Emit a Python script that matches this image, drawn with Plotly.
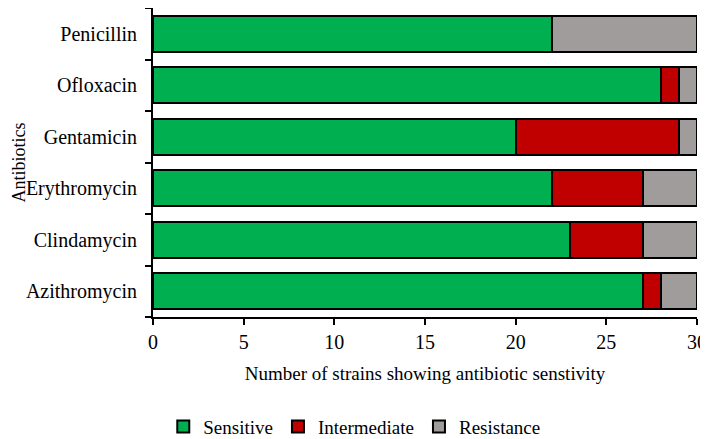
import plotly.graph_objects as go

antibiotics = ["Azithromycin", "Clindamycin", "Erythromycin", "Gentamicin", "Ofloxacin", "Penicillin"]
sensitive = [27, 23, 22, 20, 28, 22]
intermediate = [1, 4, 5, 9, 1, 0]
resistance = [2, 3, 3, 1, 1, 8]
x_ticks = [0, 5, 10, 15, 20, 25, 30]

series = [
    ("Sensitive", sensitive, "#00B050"),
    ("Intermediate", intermediate, "#C00000"),
    ("Resistance", resistance, "#A09C9C"),
]

fig = go.Figure()
for name, vals, color in series:
    fig.add_trace(go.Bar(
        y=antibiotics, x=vals, name=name, orientation="h",
        marker=dict(color=color, line=dict(color="black", width=2)),
    ))

font_family = "Liberation Serif, Times New Roman, serif"
fig.update_layout(
    barmode="stack",
    bargap=0.3,
    width=700, height=431,
    margin=dict(l=145, r=11, t=0, b=122, autoexpand=False),
    plot_bgcolor="white", paper_bgcolor="white",
    font=dict(family=font_family, color="black", size=20),
    legend=dict(orientation="h", x=0.37, xanchor="center", y=-0.355, yanchor="middle",
                font=dict(size=19), traceorder="normal"),
    xaxis=dict(
        range=[0, 30], tickvals=x_ticks, showgrid=False, zeroline=False,
        showline=True, linecolor="black", linewidth=2, automargin=False,
        ticks="outside", ticklen=6, tickwidth=2, tickcolor="black",
        tickfont=dict(size=20),
        title=dict(text="Number of strains showing antibiotic senstivity", font=dict(size=19), standoff=15),
    ),
    yaxis=dict(
        showgrid=False, showline=True, linecolor="black", linewidth=2, automargin=False,
        ticks="outside", ticklen=6, tickwidth=2, tickcolor="black", tickson="boundaries",
        tickfont=dict(size=20), ticklabelstandoff=10,
    ),
    annotations=[dict(
        text="Antibiotics", textangle=-90, xref="paper", yref="paper",
        x=-0.248, y=0.5, xanchor="center", yanchor="middle", showarrow=False,
        font=dict(size=18), borderpad=0,
    )],
)

fig.write_html("out.html")
